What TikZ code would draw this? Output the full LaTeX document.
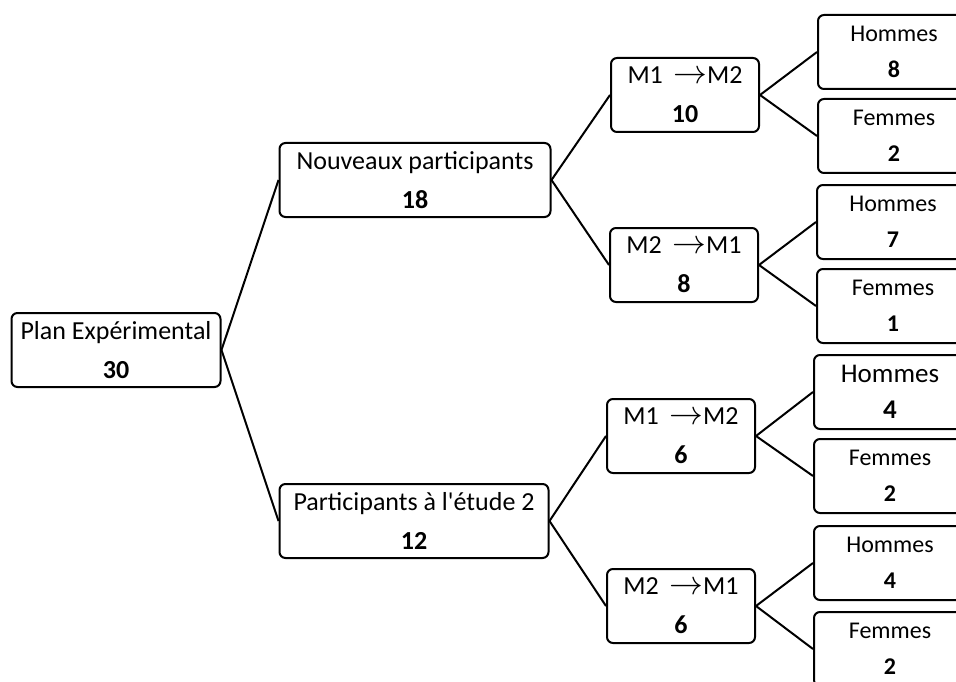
\RequirePackage{fix-cm}
\documentclass[tikz,border=0pt]{standalone}
\usepackage{fontspec}
\setmainfont{Carlito}
\usetikzlibrary{positioning}
\tikzset{box/.style = {draw, rounded corners=6pt, line width=2pt,
                       align=center, inner sep=0pt, minimum height=74pt,
                       font=\fontsize{26}{39}\selectfont}}
\tikzset{mbox/.style = {box, minimum width=148pt}}
\tikzset{leaf/.style = {box, minimum width=152pt,
                        font=\fontsize{24}{36}\selectfont}}
\tikzset{every picture/.style={line width=2pt}}
\newcommand{\fleche}{\hspace{0.4em}\scalebox{1.3}{$\rightarrow$}}

\begin{document}
\begin{tikzpicture}[x=1pt,y=-1pt]
      \clip (0,0) rectangle (956,682);
      \node[box, minimum width=209pt] (plan) at (116,350) {Plan Expérimental\\\textbf{30}};
      \node[box, minimum width=271pt] (nouv) at (415,180) {Nouveaux participants\\\textbf{18}};
      \node[box, minimum width=269pt] (etude) at (414,521) {Participants à l\textquotesingle étude 2\\\textbf{12}};
      % premier groupe
      \node[mbox] (m12a) at (685,95) {M1\fleche M2\\\textbf{10}};
      \node[mbox] (m21a) at (684,265) {M2\fleche M1\\\textbf{8}};
      % second groupe
      \node[mbox] (m12b) at (681,436) {M1\fleche M2\\\textbf{6}};
      \node[mbox] (m21b) at (681,606) {M2\fleche M1\\\textbf{6}};
      % feuilles
      \node[leaf] (h1) at (894,52) {Hommes\\\textbf{8}};
      \node[leaf] (f1) at (894,136) {Femmes\\\textbf{2}};
      \node[leaf] (h2) at (893,222) {Hommes\\\textbf{7}};
      \node[leaf] (f2) at (893,306) {Femmes\\\textbf{1}};
      \node[leaf, font=\fontsize{27}{36}\selectfont] (h3) at (890,392) {Hommes\\\textbf{4}};
      \node[leaf] (f3) at (890,476) {Femmes\\\textbf{2}};
      \node[leaf] (h4) at (890,563) {Hommes\\\textbf{4}};
      \node[leaf] (f4) at (890,649) {Femmes\\\textbf{2}};
      \draw (plan.east) -- (nouv.west);
      \draw (plan.east) -- (etude.west);
      \draw (nouv.east) -- (m12a.west);
      \draw (nouv.east) -- (m21a.west);
      \draw (etude.east) -- (m12b.west);
      \draw (etude.east) -- (m21b.west);
      \draw (m12a.east) -- (h1.west);
      \draw (m12a.east) -- (f1.west);
      \draw (m21a.east) -- (h2.west);
      \draw (m21a.east) -- (f2.west);
      \draw (m12b.east) -- (h3.west);
      \draw (m12b.east) -- (f3.west);
      \draw (m21b.east) -- (h4.west);
      \draw (m21b.east) -- (f4.west);
    \end{tikzpicture}
\end{document}
